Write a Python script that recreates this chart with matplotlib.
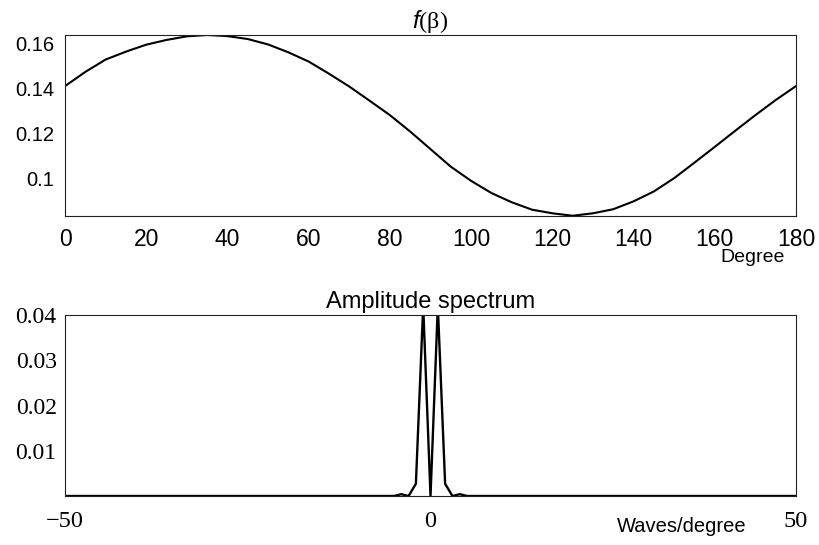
import matplotlib.pyplot as plt

plt.rcParams['mathtext.fontset'] = 'custom'
plt.rcParams['mathtext.it'] = 'Liberation Sans:italic'

# f(beta), every 5 degrees
beta = list(range(0, 181, 5))
f_beta = [0.1410, 0.1473, 0.1528, 0.1563, 0.1594, 0.1615, 0.1631, 0.1637, 0.1632, 0.1619,
          0.1595, 0.1560, 0.1519, 0.1465, 0.1408, 0.1345, 0.1281, 0.1208, 0.1130, 0.1052,
          0.0989, 0.0935, 0.0894, 0.0861, 0.0845, 0.0834, 0.0845, 0.0863, 0.0898, 0.0942,
          0.1001, 0.1070, 0.1140, 0.1211, 0.1281, 0.1348, 0.1410]

# amplitude spectrum, integer waves/degree from -50 to 50
waves = list(range(-50, 51))
near = {-5: 0.0, -4: 0.0004, -3: 0.0, -2: 0.0027, -1: 0.042, 0: 0.0,
        1: 0.042, 2: 0.0027, 3: 0.0, 4: 0.0004, 5: 0.0}
amp = [near.get(w, 0.0) for w in waves]

x_ticks_top = [0, 20, 40, 60, 80, 100, 120, 140, 160, 180]
y_ticks_top = [0.1, 0.12, 0.14, 0.16]
y_labels_top = ['0.1', '0.12', '0.14', '0.16']
x_ticks_bot = [-50, 0, 50]
x_labels_bot = ['\u221250', '0', '50']
y_ticks_bot = [0.01, 0.02, 0.03, 0.04]

fig = plt.figure(figsize=(8.19, 5.45), dpi=100)
ax1 = fig.add_axes([0.0794, 0.6037, 0.8925, 0.3321])
ax2 = fig.add_axes([0.0794, 0.0899, 0.8925, 0.3321])

sans = 'Liberation Sans'
serif = 'Liberation Serif'

ax1.plot(beta, f_beta, color='black', lw=1.5)
ax1.set_xlim(0, 180)
ax1.set_ylim(0.0833, 0.1637)
ax1.set_xticks(x_ticks_top)
ax1.set_yticks(y_ticks_top, y_labels_top)
ax1.tick_params(axis='x', length=0, pad=9, labelsize=16.5)
ax1.tick_params(axis='y', length=0, pad=8, labelsize=14.5)
for lab in ax1.get_xticklabels() + ax1.get_yticklabels():
    lab.set_fontfamily(sans)
ax1.set_title(r'$\mathit{f}$(β)', fontfamily=serif, fontsize=17.5, pad=3)

ax2.plot(waves, amp, color='black', lw=1.7, clip_on=True)
ax2.set_xlim(-50, 50)
ax2.set_ylim(0, 0.04)
ax2.set_xticks(x_ticks_bot, x_labels_bot)
ax2.set_yticks(y_ticks_bot)
ax2.tick_params(axis='x', length=0, pad=11, labelsize=17.5)
ax2.tick_params(axis='y', length=0, pad=6, labelsize=17)
for lab in ax2.get_xticklabels() + ax2.get_yticklabels():
    lab.set_fontfamily(serif)
ax2.set_title('Amplitude spectrum', fontfamily=sans, fontsize=17, pad=5)

for ax in (ax1, ax2):
    for sp in ax.spines.values():
        sp.set_linewidth(0.8)
        sp.set_color('#222222')

fig.text(753 / 819, 1 - 258 / 545, 'Degree', fontfamily=sans, fontsize=14,
         ha='center', va='center')
fig.text(682 / 819, 1 - 527 / 545, 'Waves/degree', fontfamily=sans, fontsize=14.5,
         ha='center', va='center')

plt.savefig('out.png', dpi=100)
